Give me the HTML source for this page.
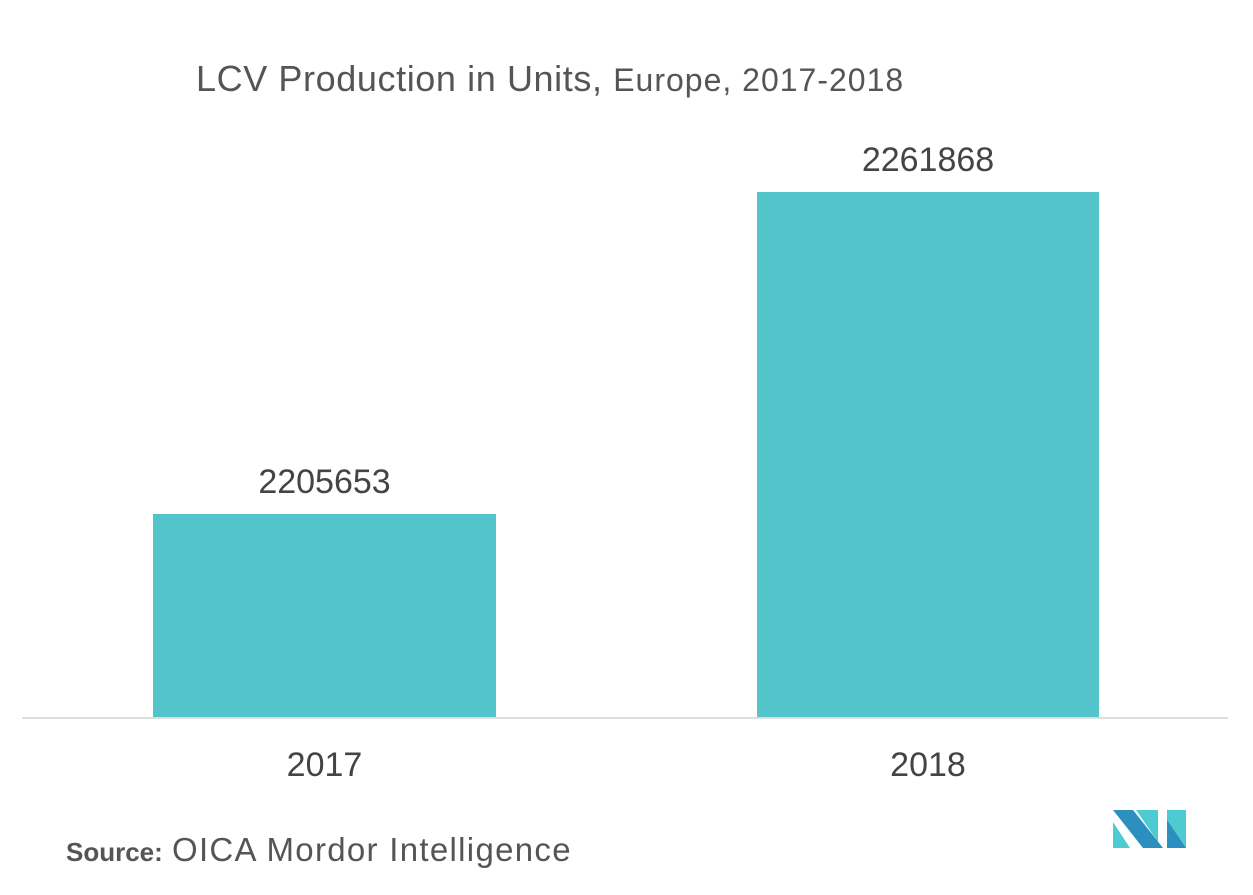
<!DOCTYPE html>
<html><head><style>
body{margin:0;width:1253px;height:895px;background:#fff;font-family:"Liberation Sans",sans-serif;position:relative;overflow:hidden;color:#444}
.t{position:absolute;white-space:nowrap}
.bar{position:absolute;background:#52c4ca}
</style></head><body>
<div class="t" style="left:196px;top:58px;font-size:36px;letter-spacing:0.6px;color:#555">LCV Production in Units, <span style="font-size:32px;letter-spacing:1px">Europe, 2017-2018</span></div>
<div class="bar" style="left:153px;top:514px;width:343px;height:204px"></div>
<div class="bar" style="left:757px;top:192px;width:342px;height:526px"></div>
<div style="position:absolute;left:22px;top:717px;width:1206px;height:2px;background:#ddd"></div>
<div class="t" style="left:153px;width:343px;text-align:center;top:463px;font-size:34px">2205653</div>
<div class="t" style="left:757px;width:342px;text-align:center;top:141px;font-size:34px">2261868</div>
<div class="t" style="left:153px;width:343px;text-align:center;top:746px;font-size:34px">2017</div>
<div class="t" style="left:757px;width:342px;text-align:center;top:746px;font-size:34px">2018</div>
<div class="t" style="left:66px;top:831px;font-size:33px;color:#555"><b style="font-size:26px">Source:</b> <span style="letter-spacing:1.3px">OICA Mordor Intelligence</span></div>
<svg style="position:absolute;left:1110px;top:806px" width="80" height="46">
<polygon points="3,16 3,42 20,42" fill="#4ecbd0"/>
<polygon points="3,4 23,4 53,42 33,42" fill="#2b8fc0"/>
<polygon points="26,4 48,4 48,36" fill="#4ecbd0"/>
<polygon points="57,4 76,4 76,42 57,42 57,14" fill="#4ecbd0"/>
<polygon points="57,14 76,42 57,42" fill="#2b8fc0"/>
</svg>
</body></html>
